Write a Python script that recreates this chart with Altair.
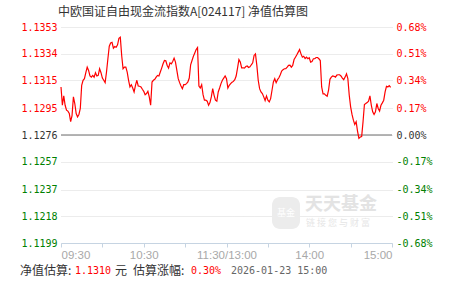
import altair as alt
import pandas as pd

title_text = "中欧国证自由现金流指数A[024117] 净值估算图"
base_nav = 1.1276

minutes = list(range(240))
pct = [
    0.304, 0.188, 0.247, 0.188, 0.157, 0.151, 0.136, 0.084, 0.122, 0.241,
    0.199, 0.136, 0.115, 0.130, 0.168, 0.314, 0.346, 0.356, 0.394, 0.429,
    0.408, 0.373, 0.366, 0.377, 0.366, 0.394, 0.373, 0.377, 0.419, 0.394,
    0.360, 0.346, 0.331, 0.398, 0.482, 0.561, 0.582, 0.586, 0.549, 0.559,
    0.555, 0.570, 0.611, 0.618, 0.503, 0.419, 0.429, 0.429, 0.398, 0.346,
    0.304, 0.318, 0.297, 0.272, 0.314, 0.346, 0.310, 0.308, 0.304, 0.289,
    0.276, 0.255, 0.262, 0.276, 0.241, 0.188, 0.335, 0.346, 0.352, 0.366,
    0.377, 0.373, 0.398, 0.423, 0.450, 0.471, 0.469, 0.440, 0.423, 0.456,
    0.450, 0.465, 0.486, 0.461, 0.408, 0.356, 0.331, 0.310, 0.293, 0.318,
    0.318, 0.325, 0.335, 0.360, 0.444, 0.471, 0.498, 0.519, 0.540, 0.553,
    0.310, 0.297, 0.318, 0.255, 0.220, 0.220, 0.214, 0.188, 0.205, 0.241,
    0.293, 0.251, 0.220, 0.214, 0.272, 0.297, 0.325, 0.346, 0.360, 0.373,
    0.356, 0.297, 0.314, 0.325, 0.333, 0.339, 0.350, 0.373, 0.423, 0.477,
    0.461, 0.425, 0.425, 0.423, 0.433, 0.436, 0.427, 0.431, 0.444, 0.456,
    0.503, 0.513, 0.440, 0.346, 0.293, 0.272, 0.262, 0.241, 0.218, 0.247,
    0.220, 0.209, 0.230, 0.283, 0.335, 0.356, 0.331, 0.350, 0.362, 0.381,
    0.404, 0.413, 0.419, 0.419, 0.429, 0.440, 0.442, 0.429, 0.440, 0.477,
    0.492, 0.507, 0.524, 0.540, 0.513, 0.492, 0.498, 0.484, 0.492, 0.482,
    0.488, 0.461, 0.465, 0.482, 0.482, 0.490, 0.490, 0.482, 0.471, 0.304,
    0.260, 0.260, 0.251, 0.245, 0.283, 0.352, 0.366, 0.373, 0.371, 0.366,
    0.379, 0.381, 0.381, 0.373, 0.360, 0.350, 0.366, 0.387, 0.356, 0.251,
    0.178, 0.130, 0.094, 0.067, 0.084, 0.025, -0.021, -0.013, -0.010, 0.084,
    0.193, 0.199, 0.205, 0.214, 0.247, 0.188, 0.147, 0.130, 0.147, 0.199,
    0.168, 0.151, 0.188, 0.203, 0.220, 0.272, 0.308, 0.304, 0.312, 0.301,
]

nav_ticks = [1.1199, 1.1218, 1.1237, 1.1257, 1.1276, 1.1295, 1.1315, 1.1334, 1.1353]
pct_labels = ["-0.68%", "-0.51%", "-0.34%", "-0.17%", "0.00%", "0.17%", "0.34%", "0.51%", "0.68%"]
x_tick_minutes = [0, 30, 60, 90, 120, 150, 180, 210, 240]
x_label_minutes = [0, 60, 120, 180, 240]
x_labels = ["09:30", "10:30", "11:30/13:00", "14:00", "15:00"]

footer_parts = ["净值估算:", "1.1310", "元", "估算涨幅:", "0.30%", "2026-01-23 15:00"]
footer_colors = ["#333333", "#ff0000", "#333333", "#333333", "#ff0000", "#666666"]
footer_fonts = ["Noto Sans CJK SC", "DejaVu Sans Mono", "Noto Sans CJK SC",
                "Noto Sans CJK SC", "DejaVu Sans Mono", "DejaVu Sans Mono"]
footer_sizes = [12, 10, 12, 12, 10, 10]
footer_x = [20, 75, 115, 133, 191, 231]

watermark_main = "天天基金"
watermark_sub = "链 接 您 与 财 富"
watermark_icon = "基金"

# layout (pixels)
PL, PT, PR, PB = 61, 27, 59, 38
W, H = 331, 216

df = pd.DataFrame({"m": minutes, "pct": pct})
df["nav"] = base_nav * (1 + df["pct"] / 100)

mins_js = "[" + ",".join(str(v) for v in x_label_minutes) + "]"
labs_js = "[" + ",".join("'" + s + "'" for s in x_labels) + "]"
x_label_expr = f"indexof({mins_js}, datum.value) >= 0 ? {labs_js}[indexof({mins_js}, datum.value)] : ''"

navs_js = "[" + ",".join(str(v) for v in nav_ticks) + "]"
pcts_js = "[" + ",".join("'" + s + "'" for s in pct_labels) + "]"
right_label_expr = f"{pcts_js}[indexof({navs_js}, datum.value)]"

color_cond = {
    "condition": [
        {"test": f"datum.value > {base_nav + 1e-6}", "value": "#ff0000"},
        {"test": f"datum.value < {base_nav - 1e-6}", "value": "#008000"},
    ],
    "value": "#333333",
}

x_enc = alt.X(
    "m:Q",
    scale=alt.Scale(domain=[0, 240], nice=False, zero=False),
    axis=alt.Axis(
        values=x_tick_minutes, labelExpr=x_label_expr, title=None, grid=False,
        domainColor="#c6d4e2", tickColor="#c6d4e2", tickSize=4,
        labelColor="#a8a8a8", labelFont="Liberation Sans", labelFontSize=11.5,
        labelPadding=2, labelFlush=True, labelOverlap=False,
    ),
)
y_scale = alt.Scale(domain=[nav_ticks[0], nav_ticks[-1]], nice=False, zero=False)

line = alt.Chart(df).mark_line(color="#ff0000", strokeWidth=1.2).encode(
    x=x_enc,
    y=alt.Y(
        "nav:Q", scale=y_scale,
        axis=alt.Axis(
            orient="left", values=nav_ticks, format=".4f", title=None,
            domain=False, ticks=False, grid=True, gridColor="#d9d9d9",
            gridDash=[1, 1], labelFont="DejaVu Sans Mono", labelFontSize=10,
            labelPadding=4, labelColor=color_cond,
        ),
    ),
)

ghost = alt.Chart(df).mark_line(opacity=0).encode(
    x=x_enc,
    y=alt.Y(
        "nav:Q", scale=y_scale,
        axis=alt.Axis(
            orient="right", values=nav_ticks, labelExpr=right_label_expr,
            title=None, domain=False, ticks=False, grid=False,
            labelFont="DejaVu Sans Mono", labelFontSize=10, labelPadding=4,
            labelColor=color_cond,
        ),
    ),
)

zero = alt.Chart(pd.DataFrame({"nav": [base_nav]})).mark_rule(
    color="#9c9c9c", strokeWidth=1.5
).encode(y=alt.Y("nav:Q", scale=y_scale, axis=None))

one = pd.DataFrame({"a": [0]})
icon = alt.Chart(one).mark_rect(cornerRadius=8, color="#ececec").encode(
    x=alt.value(272 - PL), x2=alt.value(300 - PL),
    y=alt.value(197 - PT), y2=alt.value(229 - PT),
)
icon_txt = alt.Chart(one).mark_text(
    text=watermark_icon, font="Noto Sans CJK SC", fontSize=9, color="#ffffff",
    align="center", baseline="middle",
).encode(x=alt.value(286 - PL), y=alt.value(213 - PT))
wm1 = alt.Chart(one).mark_text(
    text=watermark_main, font="Noto Sans CJK SC", fontSize=18, fontWeight="bold",
    color="#e3e3e3", align="left", baseline="middle",
).encode(x=alt.value(305 - PL), y=alt.value(205 - PT))
wm2 = alt.Chart(one).mark_text(
    text=watermark_sub, font="Noto Sans CJK SC", fontSize=9,
    color="#e6e6e6", align="left", baseline="middle",
).encode(x=alt.value(306 - PL), y=alt.value(223 - PT))

title_mark = alt.Chart(one).mark_text(
    text=title_text, font="Noto Sans CJK SC", fontSize=12, color="#333333",
    align="left", baseline="middle",
).encode(x=alt.value(58 - PL), y=alt.value(12 - PT))

footer_layers = []
for i, part in enumerate(footer_parts):
    footer_layers.append(
        alt.Chart(one).mark_text(
            text=part, font=footer_fonts[i], fontSize=footer_sizes[i],
            color=footer_colors[i], align="left", baseline="middle",
        ).encode(x=alt.value(footer_x[i] - PL), y=alt.value(271 - PT))
    )

chart = (
    alt.layer(zero, icon, icon_txt, wm1, wm2, line, ghost, title_mark, *footer_layers)
    .resolve_axis(y="independent")
    .properties(
        width=W, height=H,
        padding={"left": PL, "top": PT, "right": PR, "bottom": PB},
        autosize=alt.AutoSizeParams(type="none"),
        background="white",
    )
    .configure_view(stroke=None)
)

chart.save("out.html", embed_options={"renderer": "svg", "actions": False})
